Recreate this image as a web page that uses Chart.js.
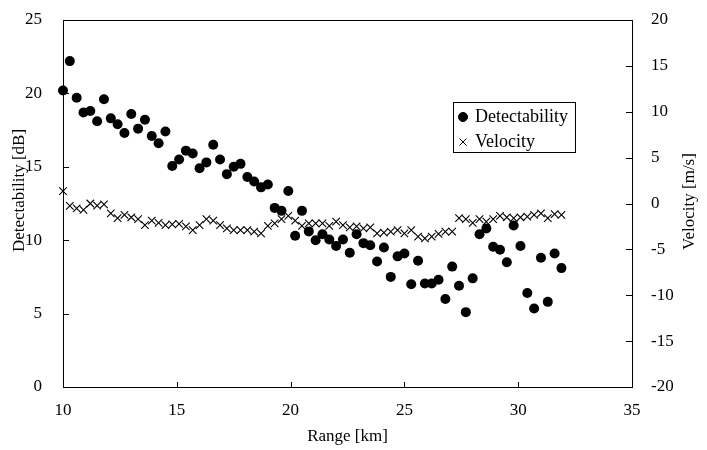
<!DOCTYPE html>
<html>
<head>
<meta charset="utf-8">
<script src="https://cdn.jsdelivr.net/npm/chart.js@4.4.1/dist/chart.umd.min.js"></script>
<style>
  html, body { margin: 0; padding: 0; background: #fff; }
  #wrap { width: 707px; height: 450px; }
</style>
</head>
<body>
<div id="wrap"><canvas id="chart" width="707" height="450"></canvas></div>
<script>
// range [km] of each gate
const rangeKm = [10, 10.3, 10.6, 10.9, 11.2, 11.5, 11.8, 12.1, 12.4, 12.7,
  13, 13.3, 13.6, 13.9, 14.2, 14.5, 14.8, 15.1, 15.4, 15.7,
  16, 16.3, 16.6, 16.9, 17.2, 17.5, 17.8, 18.1, 18.4, 18.7,
  19, 19.3, 19.6, 19.9, 20.2, 20.5, 20.8, 21.1, 21.4, 21.7,
  22, 22.3, 22.6, 22.9, 23.2, 23.5, 23.8, 24.1, 24.4, 24.7,
  25, 25.3, 25.6, 25.9, 26.2, 26.5, 26.8, 27.1, 27.4, 27.7,
  28, 28.3, 28.6, 28.9, 29.2, 29.5, 29.8, 30.1, 30.4, 30.7,
  31, 31.3, 31.6, 31.9];

// detectability [dB]
const detectability = [20.2, 22.2, 19.7, 18.7, 18.8, 18.1, 19.6, 18.3, 17.9, 17.3,
  18.6, 17.6, 18.2, 17.1, 16.6, 17.4, 15.05, 15.5, 16.1, 15.9,
  14.9, 15.3, 16.5, 15.5, 14.5, 15.0, 15.2, 14.3, 14.0, 13.6,
  13.8, 12.2, 12.0, 13.35, 10.3, 12.0, 10.6, 10.0, 10.4, 10.05,
  9.6, 10.05, 9.15, 10.4, 9.8, 9.65, 8.55, 9.5, 7.5, 8.9,
  9.1, 7.0, 8.6, 7.05, 7.05, 7.3, 6.0, 8.2, 6.9, 5.1,
  7.4, 10.4, 10.8, 9.55, 9.35, 8.5, 11.0, 9.6, 6.4, 5.35,
  8.8, 5.8, 9.1, 8.1];

// velocity [m/s]
const velocity = [1.36, -0.27, -0.53, -0.7, 0.0, -0.24, -0.1, -1.07, -1.6, -1.25,
  -1.5, -1.7, -2.35, -1.87, -2.1, -2.35, -2.27, -2.23, -2.5, -2.9,
  -2.35, -1.7, -1.87, -2.35, -2.7, -2.9, -2.9, -2.9, -3.07, -3.25,
  -2.45, -2.16, -1.7, -1.36, -1.87, -2.45, -2.16, -2.16, -2.16, -2.45,
  -1.98, -2.35, -2.6, -2.5, -2.7, -2.6, -3.25, -3.18, -3.07, -2.9,
  -3.25, -2.9, -3.6, -3.8, -3.6, -3.3, -3.07, -3.07, -1.6, -1.7,
  -2.1, -1.7, -1.98, -1.7, -1.36, -1.5, -1.6, -1.5, -1.43, -1.25,
  -1.07, -1.6, -1.15, -1.25];

const seriesNames = ['Detectability', 'Velocity'];
const xTicks = [10, 15, 20, 25, 30, 35];
const yLeftTicks = [0, 5, 10, 15, 20, 25];
const yRightTicks = [-20, -15, -10, -5, 0, 5, 10, 15, 20];
const axisTitles = { x: 'Range [km]', y: 'Detectability [dB]', y2: 'Velocity [m/s]' };

const FONT = '"Liberation Serif", "Times New Roman", serif';

function toPoints(ys) {
    return rangeKm.map((x, i) => ({ x: x, y: ys[i] }));
}

// keep the plot box fixed: no extra room for overflowing tick labels
function fitVertical(width) {
    return s => { s.width = width; s.paddingTop = 0; s.paddingBottom = 0; };
}

// frame, inward tick marks, vertical axis titles (both read bottom-to-top)
const framePlugin = {
    id: 'frame',
    afterDraw(chart) {
        const ctx = chart.ctx, a = chart.chartArea;
        ctx.save();
        ctx.strokeStyle = '#000';
        ctx.lineWidth = 1;
        ctx.strokeRect(Math.round(a.left) + 0.5, Math.round(a.top) + 0.5,
            Math.round(a.right - a.left), Math.round(a.bottom - a.top));
        ctx.beginPath();
        const sx = chart.scales.x, yl = chart.scales.y, yr = chart.scales.y2;
        xTicks.forEach(v => {
            const px = Math.round(sx.getPixelForValue(v)) + 0.5;
            ctx.moveTo(px, a.bottom); ctx.lineTo(px, a.bottom - 5);
        });
        yLeftTicks.forEach(v => {
            const py = Math.round(yl.getPixelForValue(v)) + 0.5;
            ctx.moveTo(a.left, py); ctx.lineTo(a.left + 6, py);
        });
        yRightTicks.forEach(v => {
            const py = Math.round(yr.getPixelForValue(v)) + 0.5;
            ctx.moveTo(a.right, py); ctx.lineTo(a.right - 6, py);
        });
        ctx.stroke();

        ctx.font = '17px ' + FONT;
        ctx.fillStyle = '#000';
        ctx.textAlign = 'center';
        ctx.textBaseline = 'middle';
        const mid = (a.top + a.bottom) / 2;
        ctx.save();
        ctx.translate(a.left - 43, mid - 13);
        ctx.rotate(-Math.PI / 2);
        ctx.fillText(axisTitles.y, 0, 0);
        ctx.restore();
        ctx.save();
        ctx.translate(a.right + 58, mid - 2);
        ctx.rotate(-Math.PI / 2);
        ctx.fillText(axisTitles.y2, 0, 0);
        ctx.restore();
        ctx.restore();
    }
};

// boxed legend inside the plot
const boxLegend = {
    id: 'boxLegend',
    afterDraw(chart) {
        const ctx = chart.ctx, a = chart.chartArea;
        const bx = a.left + 390, by = a.top + 82, bw = 122, bh = 50;
        ctx.save();
        ctx.strokeStyle = '#000';
        ctx.lineWidth = 1;
        ctx.strokeRect(bx + 0.5, by + 0.5, bw, bh);
        ctx.font = '18px ' + FONT;
        ctx.fillStyle = '#000';
        ctx.textBaseline = 'middle';
        chart.data.datasets.forEach((ds, i) => {
            const cy = by + 15 + i * 25;
            Chart.helpers.drawPoint(ctx, {
                pointStyle: ds.pointStyle, radius: i === 0 ? 4.5 : 5,
                borderWidth: 1, rotation: 0
            }, bx + 10, cy);
            if (i === 0) ctx.fill();
            ctx.fillText(ds.label, bx + 22, cy);
        });
        ctx.restore();
    }
};

new Chart(document.getElementById('chart'), {
    type: 'scatter',
    data: {
        datasets: [{
            label: seriesNames[0],
            data: toPoints(detectability),
            yAxisID: 'y',
            pointStyle: 'circle',
            pointRadius: 5,
            pointBackgroundColor: '#000',
            pointBorderColor: '#000',
            pointBorderWidth: 0,
            clip: false
        }, {
            label: seriesNames[1],
            data: toPoints(velocity),
            yAxisID: 'y2',
            pointStyle: 'crossRot',
            pointRadius: 5.3,
            pointBorderColor: '#000',
            pointBorderWidth: 1.1,
            clip: false
        }]
    },
    options: {
        responsive: false,
        animation: false,
        layout: { padding: { top: 20, left: 0, right: 0, bottom: 0 } },
        plugins: {
            legend: { display: false },
            tooltip: { enabled: false }
        },
        scales: {
            x: {
                type: 'linear',
                min: 10, max: 35,
                afterBuildTicks: s => { s.ticks = xTicks.map(v => ({ value: v })); },
                afterFit: s => { s.height = 63; s.paddingLeft = 0; s.paddingRight = 0; },
                grid: { display: false },
                border: { display: false },
                ticks: { color: '#000', padding: 5, font: { family: FONT, size: 17 } },
                title: {
                    display: true, text: axisTitles.x, color: '#000',
                    font: { family: FONT, size: 17 }, padding: { top: 0, bottom: 3 }
                }
            },
            y: {
                position: 'left',
                min: 0, max: 25,
                afterBuildTicks: s => { s.ticks = yLeftTicks.map(v => ({ value: v })); },
                afterFit: fitVertical(63),
                grid: { display: false },
                border: { display: false },
                ticks: { color: '#000', padding: 13, font: { family: FONT, size: 17 } }
            },
            y2: {
                position: 'right',
                min: -20, max: 20,
                afterBuildTicks: s => { s.ticks = yRightTicks.map(v => ({ value: v })); },
                afterFit: fitVertical(75),
                grid: { display: false },
                border: { display: false },
                ticks: { color: '#000', padding: 11, font: { family: FONT, size: 17 } }
            }
        }
    },
    plugins: [framePlugin, boxLegend]
});
</script>
</body>
</html>
